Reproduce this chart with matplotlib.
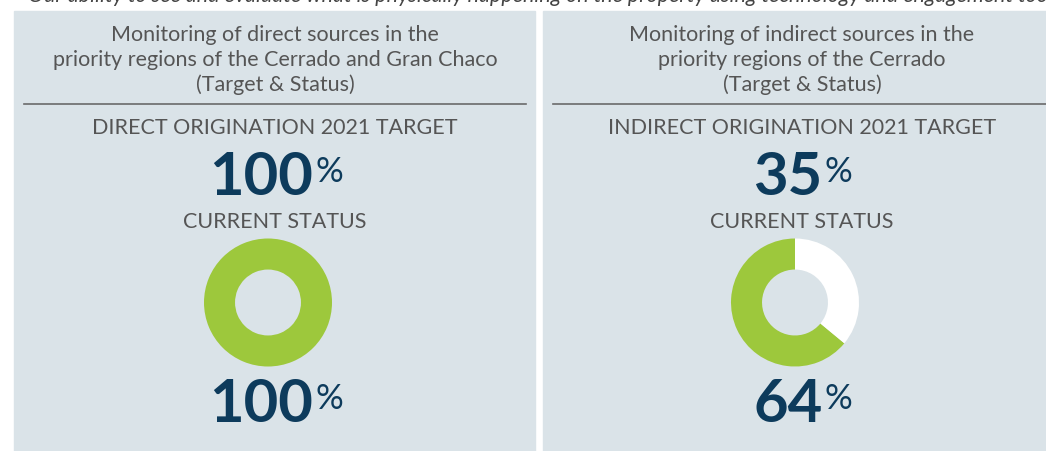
import matplotlib.pyplot as plt
from matplotlib.patches import Rectangle

# Chart content
intro = "Our ability to see and evaluate what is physically happening on the property using technology and engagement tools"
titles = ["Monitoring of direct sources in the\npriority regions of the Cerrado and Gran Chaco\n(Target & Status)",
          "Monitoring of indirect sources in the\npriority regions of the Cerrado\n(Target & Status)"]
target_labels = ["DIRECT ORIGINATION 2021 TARGET", "INDIRECT ORIGINATION 2021 TARGET"]
targets = [100, 35]
status = [100, 64]

# Colours
bg = "#dae3e8"
green = "#9dc83c"
navy = "#0d3b5c"
grey = "#555555"

W, H = 1046, 452
fig = plt.figure(figsize=(W / 100, H / 100), dpi=100)
ax = fig.add_axes([0, 0, 1, 1])
ax.set_xlim(0, W)
ax.set_ylim(H, 0)
ax.axis("off")

plt.rcParams['font.family'] = ['Lato', 'DejaVu Sans']

# intro line, cut off by the top edge as in the original page crop
ax.text(28, 2.5, intro, fontsize=15.5, style="italic", color="#444444", va="baseline", ha="left")

panel_x = [14, 543]
panel_w = 521
centres = [275, 802]
donut_cx = [268, 795]


def big_number(x, y, value):
    t = ax.text(x - 14, y, str(value), fontsize=43, fontweight="bold", color=navy,
                ha="center", va="center")
    ax.annotate("%", xy=(1, 0.62), xycoords=t, xytext=(1.5, 0), textcoords="offset points",
                fontsize=25, color=navy, ha="left", va="center")


for i in range(2):
    ax.add_patch(Rectangle((panel_x[i], 12), panel_w, H - 12, color=bg, zorder=0))
    c = centres[i]
    ax.text(c, 60, titles[i], fontsize=15.5, color=grey, ha="center", va="center", linespacing=1.3)
    ax.plot([panel_x[i] + 10, panel_x[i] + panel_w - 9], [105, 105], color="#6a6a6a", lw=1.2)
    ax.text(c, 128, target_labels[i], fontsize=15.5, color=grey, ha="center", va="center")
    big_number(c, 178, targets[i])
    ax.text(c, 222, "CURRENT STATUS", fontsize=15.5, color=grey, ha="center", va="center")
    big_number(c, 405, status[i])

    # donut
    r = 64
    cx, cy = donut_cx[i], 303.5
    pax = fig.add_axes([(cx - r) / W, 1 - (cy + r) / H, 2 * r / W, 2 * r / H])
    vals = [status[i], 100 - status[i]]
    pax.pie(vals, colors=[green, "white"], startangle=90, counterclock=True,
            wedgeprops=dict(width=0.485, linewidth=0))
    pax.set_xlim(-1, 1)
    pax.set_ylim(-1, 1)
    pax.set_aspect("equal")

fig.savefig("out.png", dpi=100)
